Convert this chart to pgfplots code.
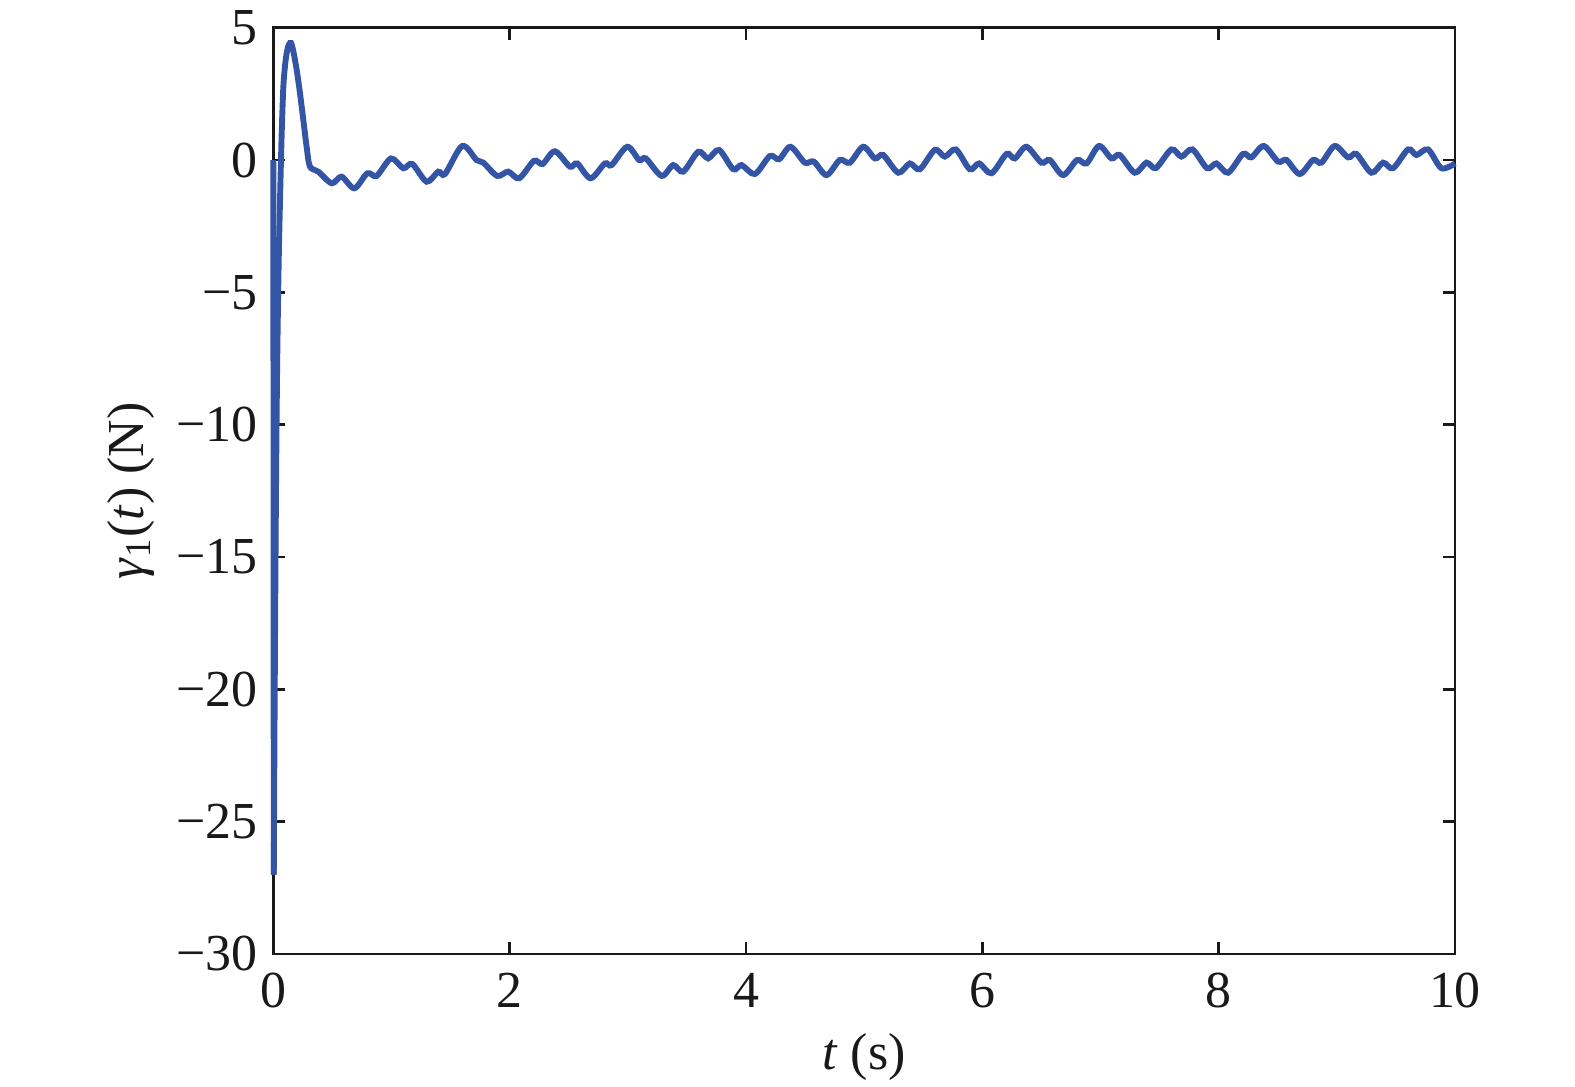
\documentclass[border=0pt]{standalone}
\usepackage{fontspec}
\setmainfont{Liberation Serif}
\usepackage{pgfplots}
\pgfplotsset{compat=1.18}
\definecolor{lineblue}{RGB}{52,84,166}
\begin{document}
\begin{tikzpicture}
\begin{axis}[
  scale only axis,
  width=341.56pt, height=267.74pt,
  xmin=0, xmax=10, ymin=-30, ymax=5,
  xtick={0,2,4,6,8,10},
  ytick={-30,-25,-20,-15,-10,-5,0,5},
  yticklabels={\textrm{−30},\textrm{−25},\textrm{−20},\textrm{−15},\textrm{−10},\textrm{−5},\textrm{0},\textrm{5}},
  xticklabels={\textrm{0},\textrm{2},\textrm{4},\textrm{6},\textrm{8},\textrm{10}},
  /pgf/number format/assume math mode=true,
  tick pos=both, tick align=inside,
  major tick length=3.5pt,
  minor tick num=0,
  axis line style={line width=0.8pt, black!90},
  every tick/.style={line width=0.8pt, black!90},
  tick label style={font=\fontsize{15}{18}\selectfont, text=black!90},
  xticklabel style={yshift=-2pt},
  yticklabel style={xshift=-1pt},
  xlabel={\textit{t} (s)},
  ylabel={\textit{γ}\textsubscript{1}(\textit{t}) (N)},
  every axis x label/.style={at={(axis description cs:0.5,-0.1251)}, anchor=base, font=\fontsize{15}{18}\selectfont, text=black!90},
  every axis y label/.style={at={(axis description cs:-0.1206,0.5)}, anchor=center, rotate=90, font=\fontsize{15}{18}\selectfont, text=black!90},
  clip=false,
]
\addplot[lineblue, line width=1.7pt] coordinates {(0,0) (0.004,-27.0)};
\addplot[lineblue, line width=1.7pt, smooth, tension=0.5] coordinates {
(0.004,-27.0) (0.012,-20) (0.022,-13) (0.032,-8) (0.045,-4) (0.058,-1.3)
(0.071,1.0) (0.085,2.77) (0.10,3.6) (0.113,4.03) (0.13,4.35) (0.150,4.42)
(0.17,4.1) (0.198,3.4) (0.226,2.52) (0.254,1.51) (0.282,0.5) (0.31,-0.25)
(0.381,-0.44) (0.494,-0.88) (0.578,-0.63) (0.686,-1.07) (0.796,-0.50) (0.875,-0.60)
(0.996,0.06) (1.10,-0.31) (1.176,-0.15) (1.298,-0.82) (1.396,-0.44) (1.453,-0.53)
(1.599,0.53) (1.72,0) (1.777,-0.10) (1.895,-0.60) (1.988,-0.44) (2.081,-0.69)
(2.206,-0.03) (2.279,-0.15) (2.383,0.33) (2.51,-0.25) (2.572,-0.13) (2.685,-0.69)
(2.806,-0.13) (2.863,-0.19) (2.995,0.50) (3.096,0) (3.153,0.06) (3.286,-0.60)
(3.384,-0.19) (3.469,-0.44) (3.596,0.31) (3.68,0.06) (3.773,0.38) (3.892,-0.35)
(3.963,-0.19) (4.075,-0.53) (4.202,0.15) (4.281,0.03) (4.377,0.50) (4.498,-0.10)
(4.574,-0.06) (4.682,-0.57) (4.794,0) (4.879,-0.10) (4.992,0.50) (5.091,0.06)
(5.161,0.19) (5.288,-0.48) (5.387,-0.13) (5.471,-0.35) (5.598,0.38) (5.683,0.13)
(5.776,0.40) (5.894,-0.35) (5.973,-0.13) (6.078,-0.50) (6.205,0.23) (6.275,0.06)
(6.374,0.50) (6.50,-0.10) (6.571,0) (6.684,-0.57) (6.802,0) (6.882,-0.13)
(6.988,0.53) (7.093,0.06) (7.163,0.19) (7.29,-0.48) (7.389,-0.10) (7.470,-0.30)
(7.60,0.40) (7.685,0.13) (7.778,0.40) (7.902,-0.31) (7.981,-0.13) (8.08,-0.48)
(8.206,0.23) (8.277,0.10) (8.382,0.53) (8.503,-0.06) (8.574,0) (8.686,-0.53)
(8.799,0) (8.87,-0.10) (8.982,0.53) (9.095,0.10) (9.166,0.23) (9.293,-0.48)
(9.391,-0.10) (9.476,-0.31) (9.603,0.40) (9.674,0.19) (9.772,0.40) (9.885,-0.31)
(10,-0.13)
};
\end{axis}
\pgfresetboundingbox
\path[use as bounding box] (-79.0pt,-38.44pt) rectangle (376.25pt,275.74pt);
\end{tikzpicture}
\end{document}
